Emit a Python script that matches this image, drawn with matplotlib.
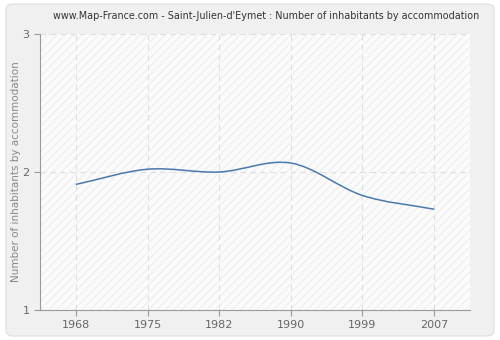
import matplotlib.pyplot as plt
from matplotlib.path import Path
from matplotlib.patches import PathPatch, FancyBboxPatch, Rectangle
import numpy as np

years = ['1968', '1975', '1982', '1990', '1999', '2007']
inhabitants = [1.91, 2.02, 2.0, 2.065, 1.83, 1.73]
title = "www.Map-France.com - Saint-Julien-d'Eymet : Number of inhabitants by accommodation"


def smooth_path(xs, ys, tension=0.5):
    # cardinal spline as cubic bezier segments
    xs = np.asarray(xs, float)
    ys = np.asarray(ys, float)
    n = len(xs)
    tx = np.zeros(n)
    ty = np.zeros(n)
    for i in range(n):
        a = max(i - 1, 0)
        b = min(i + 1, n - 1)
        tx[i] = (xs[b] - xs[a]) * tension / (b - a) if b != a else 0
        ty[i] = (ys[b] - ys[a]) * tension / (b - a) if b != a else 0
    verts = [(xs[0], ys[0])]
    codes = [Path.MOVETO]
    for i in range(n - 1):
        verts += [(xs[i] + tx[i] / 1.5, ys[i] + ty[i] / 1.5),
                  (xs[i + 1] - tx[i + 1] / 1.5, ys[i + 1] - ty[i + 1] / 1.5),
                  (xs[i + 1], ys[i + 1])]
        codes += [Path.CURVE4] * 3
    return Path(verts, codes)


fig = plt.figure(figsize=(5, 3.4), dpi=100)
fig.patch.set_facecolor('white')
bg = FancyBboxPatch((0.012, 0.012), 0.976, 0.976, boxstyle='round,pad=0,rounding_size=0.015',
                    transform=fig.transFigure, facecolor='#f0f0f0', edgecolor='#e2e2e2',
                    linewidth=1, zorder=-10)
fig.patches.append(bg)

ax = fig.add_axes([40 / 500, 30 / 340, 430 / 500, 276 / 340])
ax.set_zorder(5)
ax.set_facecolor('#fbfbfb')
ax.add_patch(Rectangle((0, 0), 1, 1, transform=ax.transAxes, facecolor='none',
                       edgecolor='#f0f0f0', hatch='////', linewidth=0, zorder=0))

x = np.arange(len(years))
ax.add_patch(PathPatch(smooth_path(x, inhabitants), facecolor='none', edgecolor='#4a79ad',
                       linewidth=1.1, zorder=3))

ax.set_xlim(-0.5, len(years) - 0.5)
ax.set_ylim(1, 3)
ax.set_xticks(x)
ax.set_xticklabels(years)
ax.set_yticks([1, 2, 3])

ax.grid(True, color='#dedede', linestyle=(0, (5, 4)), linewidth=0.8)
ax.set_axisbelow(True)
for s in ['top', 'right']:
    ax.spines[s].set_visible(False)
for s in ['left', 'bottom']:
    ax.spines[s].set_color('#999999')
ax.tick_params(colors='#999999', labelcolor='#666666', labelsize=8, length=4)

ax.set_ylabel('Number of inhabitants by accommodation', fontsize=7.5, color='#888888', labelpad=1)
fig.text(0.532, 0.953, title, ha='center', va='center', fontsize=6.95, color='#333333')

plt.savefig('out.png', dpi=100)
